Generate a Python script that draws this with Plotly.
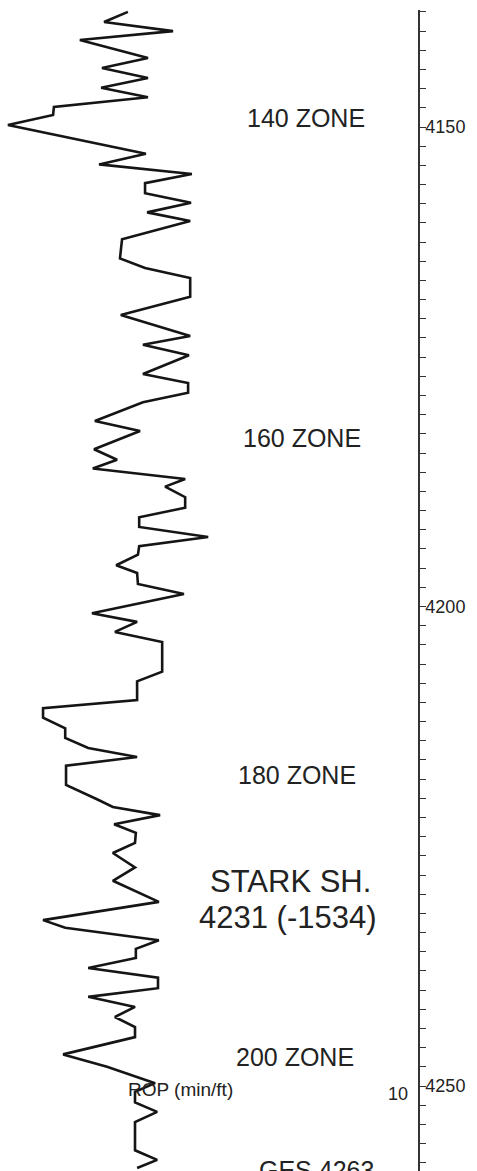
import plotly.graph_objects as go

# ROP curve (min/ft) versus measured depth (ft)
depth = [4138.0, 4139.05, 4140.0, 4140.93, 4142.8, 4143.85, 4144.9, 4145.9, 4146.9, 4147.9,
         4148.75, 4149.8, 4152.8, 4153.9, 4154.9, 4155.85, 4156.9, 4157.9, 4158.9, 4159.8,
         4161.7, 4163.7, 4164.7, 4165.75, 4167.7, 4169.6, 4171.8, 4172.7, 4173.8, 4175.75,
         4176.7, 4177.7, 4178.7, 4180.65, 4181.7, 4183.6, 4184.7, 4185.6, 4186.7, 4187.5,
         4188.6, 4189.7, 4190.7, 4191.7, 4192.75, 4193.7, 4194.6, 4195.7, 4196.5, 4197.65,
         4198.7, 4200.7, 4201.6, 4202.65, 4203.7, 4206.8, 4207.8, 4209.75, 4210.6, 4211.6,
         4212.7, 4213.7, 4214.75, 4215.7, 4216.6, 4218.6, 4220.1, 4220.9, 4221.75, 4222.7,
         4223.6, 4224.65, 4225.7, 4227.2, 4228.6, 4230.8, 4232.7, 4233.5, 4234.8, 4235.7,
         4236.65, 4237.7, 4238.7, 4239.8, 4240.7, 4241.75, 4242.8, 4243.85, 4244.9, 4246.7,
         4248.0, 4249.7, 4250.6, 4251.7, 4252.7, 4253.75, 4256.7, 4257.7, 4258.55]
rop = [3.06, 2.49, 4.14, 1.91, 3.54, 2.44, 3.54, 2.42, 3.54, 1.29,
       1.27, 0.19, 3.49, 2.37, 4.59, 3.47, 3.47, 4.57, 3.52, 4.55,
       2.92, 2.87, 3.47, 4.55, 4.55, 2.89, 4.55, 3.42, 4.52, 3.42,
       4.50, 4.50, 3.42, 2.27, 3.35, 2.25, 2.80, 2.22, 4.43, 3.95,
       4.43, 4.43, 3.33, 3.33, 4.98, 3.33, 3.30, 2.78, 3.28, 3.30,
       4.40, 2.20, 3.28, 2.75, 3.88, 3.88, 3.28, 3.28, 1.03, 1.03,
       1.56, 1.56, 2.11, 3.28, 1.58, 1.58, 2.32, 2.70, 3.83, 2.73,
       3.25, 3.23, 2.70, 3.23, 2.70, 3.80, 1.03, 1.56, 3.80, 3.25,
       3.25, 2.11, 3.78, 3.78, 2.11, 3.23, 2.75, 3.23, 3.23, 1.51,
       2.56, 3.71, 3.23, 3.23, 3.76, 3.23, 3.23, 3.76, 3.28]

depth_labels = [4150, 4200, 4250]

zone_names = ["140 ZONE", "160 ZONE", "180 ZONE", "STARK SH.", "4231 (-1534)", "200 ZONE", "GES 4263"]
zone_x = [7.32, 7.22, 7.11, 6.94, 6.89, 7.05, 7.56]
zone_depth = [4149.1, 4182.4, 4217.6, 4228.7, 4232.4, 4247.0, 4258.75]
zone_size = [25, 25, 25, 31, 31, 25, 25]

curve_name = "ROP (min/ft)"
scale_max = 10

fig = go.Figure()
fig.add_trace(go.Scatter(
    x=rop, y=depth, mode="lines",
    line=dict(color="#151515", width=2.6),
    showlegend=False, hoverinfo="skip",
))

font_family = "Liberation Sans, Arial, sans-serif"
for name, zx, zy, zs in zip(zone_names, zone_x, zone_depth, zone_size):
    fig.add_annotation(x=zx, y=zy, xref="x", yref="y", text=name, showarrow=False,
                       font=dict(family=font_family, size=zs, color="#222222"),
                       xanchor="center", yanchor="middle")

fig.add_annotation(x=4.33, y=4250.4, xref="x", yref="y", text=curve_name, showarrow=False,
                   font=dict(family=font_family, size=19, color="#222222"),
                   xanchor="center", yanchor="middle")
fig.add_annotation(x=9.81, y=4250.83, xref="x", yref="y", text=str(scale_max), showarrow=False,
                   font=dict(family=font_family, size=18, color="#222222"),
                   xanchor="right", yanchor="middle")

fig.update_layout(
    width=477, height=1171,
    margin=dict(l=0, r=59, t=10, b=0),
    paper_bgcolor="white", plot_bgcolor="white",
    xaxis=dict(range=[0, scale_max], visible=False, fixedrange=True),
    yaxis=dict(
        range=[4258.86, 4137.8], side="right", automargin=False,
        showline=True, linecolor="#333333", linewidth=1.5,
        showgrid=False, zeroline=False,
        tickvals=depth_labels, ticks="", ticklabelstandoff=2,
        tickfont=dict(family=font_family, size=18, color="#222222"),
        minor=dict(dtick=2, tick0=4138, ticks="outside", ticklen=6,
                   tickwidth=1.2, tickcolor="#333333", showgrid=False),
    ),
)

fig.write_html("out.html", config={"displayModeBar": False},
               post_script="document.body.style.margin='0';")
